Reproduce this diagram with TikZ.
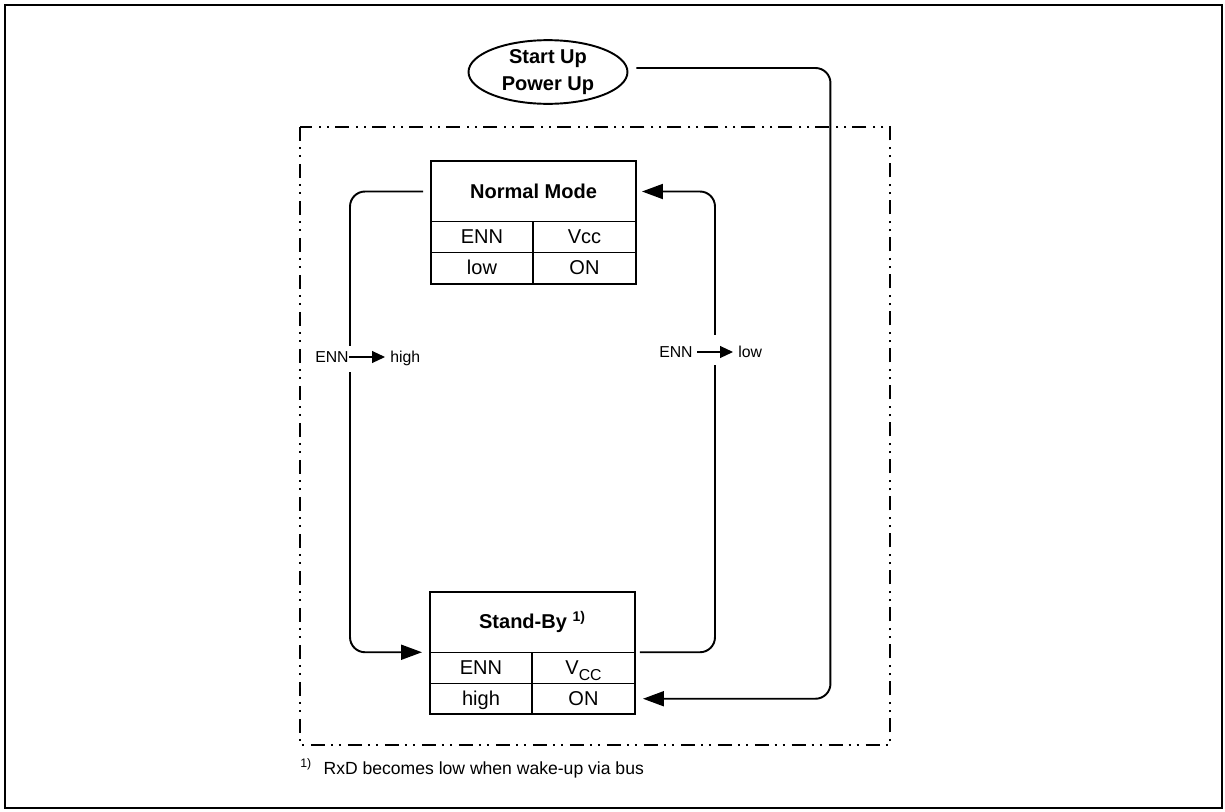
\documentclass[tikz,border=0pt]{standalone}
\usepackage{fontspec}
\setmainfont{Liberation Sans}
\usetikzlibrary{arrows.meta,shapes.geometric}

\begin{document}
\begin{tikzpicture}[x=0.02cm, y=-0.02cm,
    title/.style={draw, line width=0.6pt, minimum width=4.1cm, minimum height=1.21cm, inner sep=0pt, outer sep=0pt, font=\fontsize{11.4}{13}\selectfont\bfseries},
    cellL/.style={draw, line width=0.6pt, minimum width=2.04cm, minimum height=0.62cm, inner sep=0pt, outer sep=0pt, text height=8.2pt, text depth=0.6pt, anchor=north west, font=\fontsize{11.4}{13}\selectfont},
    cellR/.style={cellL, minimum width=2.06cm},
    link/.style={line width=1.1pt, rounded corners=0.3cm, -{Triangle[length=0.42cm,width=0.3cm]}},
    hint/.style={inner sep=0pt, text height=6.4pt, text depth=0pt, font=\fontsize{9}{11}\selectfont},
    hintarrow/.style={line width=0.6pt, -{Triangle[length=0.26cm,width=0.24cm]}}
]
    \useasboundingbox (0,0) rectangle (1225,812);
    \draw[line width=1.1pt] (5,5) rectangle (1222,808);
    % chip border
    \draw[line width=0.6pt, dash pattern=on 0.28cm off 0.12cm on 0.04cm off 0.12cm on 0.04cm off 0.14cm] (300,127) rectangle (890,745);

    \node[draw, ellipse, line width=1.1pt, minimum width=3.18cm, minimum height=1.2cm, inner sep=0pt, align=center, font=\fontsize{11.4}{15.3}\selectfont\bfseries] (start) at (548,72) {Start Up\\Power Up};

    % normal mode
    \node[title] (nm) at (533.5,191.5) {Normal Mode};
    \node[cellL] (nmA) at (nm.south west) {ENN};
    \node[cellR] (nmB) at (nmA.north east) {Vcc};
    \node[cellL] (nmC) at (nmA.south west) {low};
    \node[cellR] (nmD) at (nmC.north east) {ON};
    \draw[line width=1.1pt] (nm.north west) rectangle (nmD.south east);

    % stand-by
    \node[title] (sb) at (532.5,622) {Stand-By \textsuperscript{1)}};
    \node[cellL] (sbA) at (sb.south west) {ENN};
    \node[cellR] (sbB) at (sbA.north east) {V\raisebox{-3.2pt}{\fontsize{9}{9}\selectfont CC}};
    \node[cellL] (sbC) at (sbA.south west) {high};
    \node[cellR] (sbD) at (sbC.north east) {ON};
    \draw[line width=1.1pt] (sb.north west) rectangle (sbD.south east);

    \draw[link, shorten <=0.16cm, shorten >=0.16cm] (nm.west) -- ++(-81,0) |- (sb.south west);
    \draw[link, shorten <=0.1cm, shorten >=0.12cm] (sb.south east) -- ++(80,0) |- (nm.east);
    \draw[link, shorten <=0.16cm, shorten >=0.16cm] ([yshift=0.08cm]start.east) -- ++(202,0) |- (sbD.east);

    % transition labels
    \fill[white] (345,346) rectangle (355,372);
    \node[hint, anchor=east] (ennL) at (349,357) {ENN};
    \node[hint, anchor=west] (highL) at (390,357) {high};
    \draw[hintarrow, shorten >=0.1cm] (ennL.east) -- (highL.west);

    \fill[white] (709,335) rectangle (719,365);
    \node[hint, anchor=east] (ennR) at (693,352) {ENN};
    \node[hint, anchor=west] (lowR) at (738,352) {low};
    \draw[hintarrow, shorten <=0.08cm, shorten >=0.1cm] (ennR.east) -- (lowR.west);

    \node[anchor=base west, inner sep=0pt, font=\fontsize{10}{12}\selectfont] (note) at (300,774) {\textsuperscript{1)}\hspace{6.5pt}RxD becomes low when wake-up via bus};
\end{tikzpicture}
\end{document}
